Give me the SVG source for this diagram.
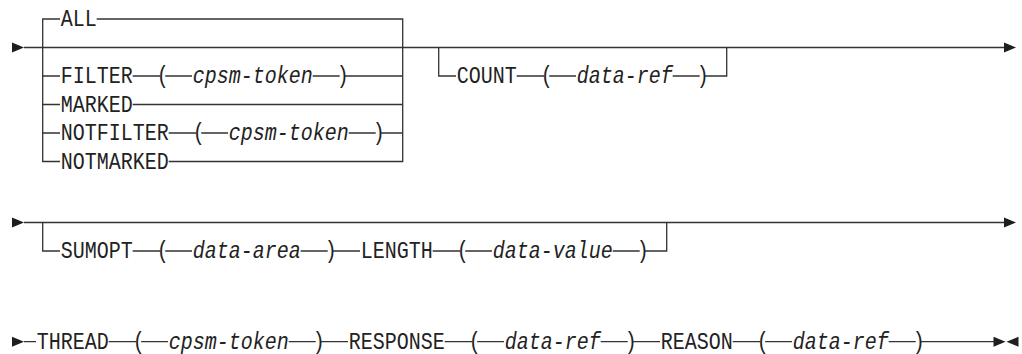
<svg xmlns="http://www.w3.org/2000/svg" xmlns:xlink="http://www.w3.org/1999/xlink" width="1022" height="354" viewBox="0 0 1022 354">
  <defs>
    <style>
      .bg { fill: #ffffff; }
      .kw { font-family: "Liberation Mono", "DejaVu Sans Mono", monospace; font-size: 24px; fill: #222222; }
      .var { font-style: italic; }
      .rail { fill: none; stroke: #333333; stroke-width: 1.3; stroke-linecap: butt; stroke-linejoin: miter; }
      .head { fill: #1e1e1e; }
    </style>
    <!-- syntax-diagram arrowheads: start/continue (right) and end (left) -->
    <path id="tipR" d="M0,-5 L12,0 L0,5 Z"/>
    <path id="tipL" d="M0,0 L12,-5 L12,5 Z"/>
  </defs>

  <rect class="bg" x="0" y="0" width="1022" height="354"/>

  <!-- rails, branches and arrowheads -->
  <g id="connectors">
    <!-- first line: selection + optional COUNT -->
    <path class="rail" d="M24,47.5 H1004"/>
    <path class="rail" d="M60,19 H42.7 V161.5 H60"/>
    <path class="rail" d="M96.7,19 H402.7 V161.5 H168.7"/>
    <path class="rail" d="M42.7,76 H60 M132.7,76 H160.2 M165.2,76 H192 M312.7,76 H339.7 M344.7,76 H402.7"/>
    <path class="rail" d="M42.7,104.5 H60 M132.7,104.5 H402.7"/>
    <path class="rail" d="M42.7,133 H60 M168.7,133 H196.2 M201.2,133 H228 M348.7,133 H375.7 M380.7,133 H402.7"/>
    <path class="rail" d="M438.7,47.5 V76 H456 M516.7,76 H544.2 M549.2,76 H576 M672.7,76 H699.7 M704.7,76 H726.7 V47.5"/>
    <use xlink:href="#tipR" class="head" transform="translate(12,47.5)"/>
    <use xlink:href="#tipR" class="head" transform="translate(1004,47.5)"/>

    <!-- second line: optional SUMOPT/LENGTH -->
    <path class="rail" d="M24,222.5 H1004"/>
    <path class="rail" d="M42.7,222.5 V251 H60 M132.7,251 H160.2 M165.2,251 H192 M300.7,251 H327.7 M332.7,251 H360 M432.7,251 H460.2 M465.2,251 H492 M612.7,251 H639.7 M644.7,251 H666.7 V222.5"/>
    <use xlink:href="#tipR" class="head" transform="translate(12,222.5)"/>
    <use xlink:href="#tipR" class="head" transform="translate(1004,222.5)"/>

    <!-- third line: required THREAD/RESPONSE/REASON -->
    <path class="rail" d="M24,341.7 H36 M108.7,341.7 H136.2 M141.2,341.7 H168 M288.7,341.7 H315.7 M320.7,341.7 H348 M444.7,341.7 H472.2 M477.2,341.7 H504 M600.7,341.7 H627.7 M632.7,341.7 H660 M732.7,341.7 H760.2 M765.2,341.7 H792 M888.7,341.7 H915.7 M920.7,341.7 H994"/>
    <use xlink:href="#tipR" class="head" transform="translate(12,341.7)"/>
    <use xlink:href="#tipR" class="head" transform="translate(993.5,341.7)"/>
    <use xlink:href="#tipL" class="head" transform="translate(1006.5,341.7)"/>
  </g>

  <!-- first line tokens -->
  <g id="opt-all"><text class="kw" x="60.7" y="26" textLength="36" lengthAdjust="spacingAndGlyphs">ALL</text></g>
  <g id="opt-filter">
    <text class="kw" x="60.7" y="83" textLength="72" lengthAdjust="spacingAndGlyphs">FILTER</text>
    <text class="kw" x="156.7" y="83" textLength="12" lengthAdjust="spacingAndGlyphs">(</text>
    <text class="kw var" x="192.7" y="83" textLength="120" lengthAdjust="spacingAndGlyphs">cpsm-token</text>
    <text class="kw" x="336.7" y="83" textLength="12" lengthAdjust="spacingAndGlyphs">)</text>
  </g>
  <g id="opt-marked"><text class="kw" x="60.7" y="111.5" textLength="72" lengthAdjust="spacingAndGlyphs">MARKED</text></g>
  <g id="opt-notfilter">
    <text class="kw" x="60.7" y="140" textLength="108" lengthAdjust="spacingAndGlyphs">NOTFILTER</text>
    <text class="kw" x="192.7" y="140" textLength="12" lengthAdjust="spacingAndGlyphs">(</text>
    <text class="kw var" x="228.7" y="140" textLength="120" lengthAdjust="spacingAndGlyphs">cpsm-token</text>
    <text class="kw" x="372.7" y="140" textLength="12" lengthAdjust="spacingAndGlyphs">)</text>
  </g>
  <g id="opt-notmarked"><text class="kw" x="60.7" y="168.5" textLength="108" lengthAdjust="spacingAndGlyphs">NOTMARKED</text></g>
  <g id="opt-count">
    <text class="kw" x="456.7" y="83" textLength="60" lengthAdjust="spacingAndGlyphs">COUNT</text>
    <text class="kw" x="540.7" y="83" textLength="12" lengthAdjust="spacingAndGlyphs">(</text>
    <text class="kw var" x="576.7" y="83" textLength="96" lengthAdjust="spacingAndGlyphs">data-ref</text>
    <text class="kw" x="696.7" y="83" textLength="12" lengthAdjust="spacingAndGlyphs">)</text>
  </g>

  <!-- second line tokens -->
  <g id="opt-sumopt">
    <text class="kw" x="60.7" y="258" textLength="72" lengthAdjust="spacingAndGlyphs">SUMOPT</text>
    <text class="kw" x="156.7" y="258" textLength="12" lengthAdjust="spacingAndGlyphs">(</text>
    <text class="kw var" x="192.7" y="258" textLength="108" lengthAdjust="spacingAndGlyphs">data-area</text>
    <text class="kw" x="324.7" y="258" textLength="12" lengthAdjust="spacingAndGlyphs">)</text>
  </g>
  <g id="opt-length">
    <text class="kw" x="360.7" y="258" textLength="72" lengthAdjust="spacingAndGlyphs">LENGTH</text>
    <text class="kw" x="456.7" y="258" textLength="12" lengthAdjust="spacingAndGlyphs">(</text>
    <text class="kw var" x="492.7" y="258" textLength="120" lengthAdjust="spacingAndGlyphs">data-value</text>
    <text class="kw" x="636.7" y="258" textLength="12" lengthAdjust="spacingAndGlyphs">)</text>
  </g>

  <!-- third line tokens -->
  <g id="req-thread">
    <text class="kw" x="36.7" y="348.6" textLength="72" lengthAdjust="spacingAndGlyphs">THREAD</text>
    <text class="kw" x="132.7" y="348.6" textLength="12" lengthAdjust="spacingAndGlyphs">(</text>
    <text class="kw var" x="168.7" y="348.6" textLength="120" lengthAdjust="spacingAndGlyphs">cpsm-token</text>
    <text class="kw" x="312.7" y="348.6" textLength="12" lengthAdjust="spacingAndGlyphs">)</text>
  </g>
  <g id="req-response">
    <text class="kw" x="348.7" y="348.6" textLength="96" lengthAdjust="spacingAndGlyphs">RESPONSE</text>
    <text class="kw" x="468.7" y="348.6" textLength="12" lengthAdjust="spacingAndGlyphs">(</text>
    <text class="kw var" x="504.7" y="348.6" textLength="96" lengthAdjust="spacingAndGlyphs">data-ref</text>
    <text class="kw" x="624.7" y="348.6" textLength="12" lengthAdjust="spacingAndGlyphs">)</text>
  </g>
  <g id="req-reason">
    <text class="kw" x="660.7" y="348.6" textLength="72" lengthAdjust="spacingAndGlyphs">REASON</text>
    <text class="kw" x="756.7" y="348.6" textLength="12" lengthAdjust="spacingAndGlyphs">(</text>
    <text class="kw var" x="792.7" y="348.6" textLength="96" lengthAdjust="spacingAndGlyphs">data-ref</text>
    <text class="kw" x="912.7" y="348.6" textLength="12" lengthAdjust="spacingAndGlyphs">)</text>
  </g>
</svg>
